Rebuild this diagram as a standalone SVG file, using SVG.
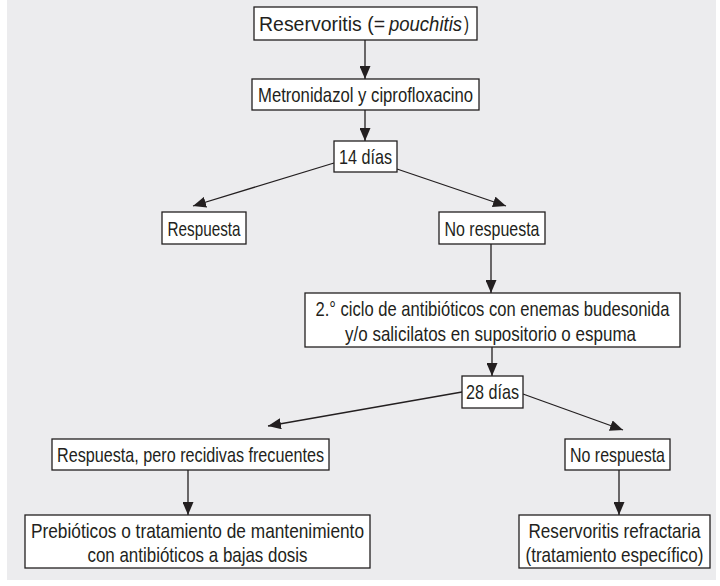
<svg xmlns="http://www.w3.org/2000/svg" width="720" height="586" viewBox="0 0 720 586">
  <style>
    .box rect { fill: #ffffff; stroke: #231f20; stroke-width: 1.3; }
    .box text { font-family: "Liberation Sans", Arial, sans-serif; font-size: 21px; fill: #231f20; text-anchor: middle; }
    .box text.start { text-anchor: start; }
    .conn line { stroke: #231f20; stroke-width: 1.3; fill: none; marker-end: url(#arrow); }
  </style>
  <defs>
    <marker id="arrow" markerUnits="userSpaceOnUse" markerWidth="13" markerHeight="11" refX="13" refY="5.5" orient="auto">
      <path d="M0,0 L13,5.5 L0,11 z" fill="#231f20"/>
    </marker>
  </defs>

  <!-- panel background -->
  <rect x="0" y="0" width="720" height="586" fill="#ffffff"/>
  <rect x="7" y="0" width="709" height="580" fill="#ececee"/>

  <!-- connectors -->
  <g id="connectors" class="conn">
    <line x1="365" y1="40" x2="365" y2="79"/>
    <line x1="365" y1="110" x2="365" y2="141"/>
    <line x1="334" y1="163" x2="193" y2="206"/>
    <line x1="397" y1="169" x2="506" y2="206"/>
    <line x1="491" y1="244" x2="491" y2="293"/>
    <line x1="492" y1="347" x2="492" y2="376"/>
    <line x1="462" y1="392" x2="268" y2="426"/>
    <line x1="523" y1="394" x2="623" y2="430"/>
    <line x1="188" y1="470" x2="188" y2="515"/>
    <line x1="619" y1="470" x2="619" y2="515"/>
  </g>

  <g id="reservoritis" class="box">
    <rect x="254" y="7" width="223" height="33"/>
    <text class="start" x="259" y="31" textLength="126" lengthAdjust="spacingAndGlyphs">Reservoritis (=</text>
    <text class="start" x="389" y="31" textLength="73" lengthAdjust="spacingAndGlyphs" font-style="italic">pouchitis</text>
    <text class="start" x="464" y="31" textLength="5" lengthAdjust="spacingAndGlyphs">)</text>
  </g>

  <g id="metronidazol" class="box">
    <rect x="252" y="79" width="227" height="31"/>
    <text x="365.5" y="102" textLength="215" lengthAdjust="spacingAndGlyphs">Metronidazol y ciprofloxacino</text>
  </g>

  <g id="dias14" class="box">
    <rect x="334" y="141" width="63" height="31"/>
    <text x="365.5" y="164" textLength="53" lengthAdjust="spacingAndGlyphs">14 días</text>
  </g>

  <g id="respuesta" class="box">
    <rect x="162" y="212" width="84" height="32"/>
    <text x="204" y="236" textLength="73" lengthAdjust="spacingAndGlyphs">Respuesta</text>
  </g>

  <g id="no-respuesta-1" class="box">
    <rect x="439" y="212" width="106" height="32"/>
    <text x="492" y="236" textLength="95" lengthAdjust="spacingAndGlyphs">No respuesta</text>
  </g>

  <g id="segundo-ciclo" class="box">
    <rect x="305" y="293" width="375" height="54"/>
    <text x="492.5" y="316" textLength="354" lengthAdjust="spacingAndGlyphs">2.° ciclo de antibióticos con enemas budesonida</text>
    <text x="490.5" y="341" textLength="291" lengthAdjust="spacingAndGlyphs">y/o salicilatos en supositorio o espuma</text>
  </g>

  <g id="dias28" class="box">
    <rect x="462" y="376" width="61" height="32"/>
    <text x="492.5" y="399" textLength="53" lengthAdjust="spacingAndGlyphs">28 días</text>
  </g>

  <g id="respuesta-recidivas" class="box">
    <rect x="52" y="439" width="277" height="31"/>
    <text x="190.5" y="462" textLength="267" lengthAdjust="spacingAndGlyphs">Respuesta, pero recidivas frecuentes</text>
  </g>

  <g id="no-respuesta-2" class="box">
    <rect x="565" y="439" width="105" height="31"/>
    <text x="617.5" y="462" textLength="95" lengthAdjust="spacingAndGlyphs">No respuesta</text>
  </g>

  <g id="prebioticos" class="box">
    <rect x="25" y="515" width="345" height="53"/>
    <text x="197.5" y="538" textLength="333" lengthAdjust="spacingAndGlyphs">Prebióticos o tratamiento de mantenimiento</text>
    <text x="197.5" y="562" textLength="220" lengthAdjust="spacingAndGlyphs">con antibióticos a bajas dosis</text>
  </g>

  <g id="refractaria" class="box">
    <rect x="519" y="515" width="191" height="53"/>
    <text x="614.5" y="538" textLength="172" lengthAdjust="spacingAndGlyphs">Reservoritis refractaria</text>
    <text x="614.5" y="562" textLength="178" lengthAdjust="spacingAndGlyphs">(tratamiento específico)</text>
  </g>
</svg>
